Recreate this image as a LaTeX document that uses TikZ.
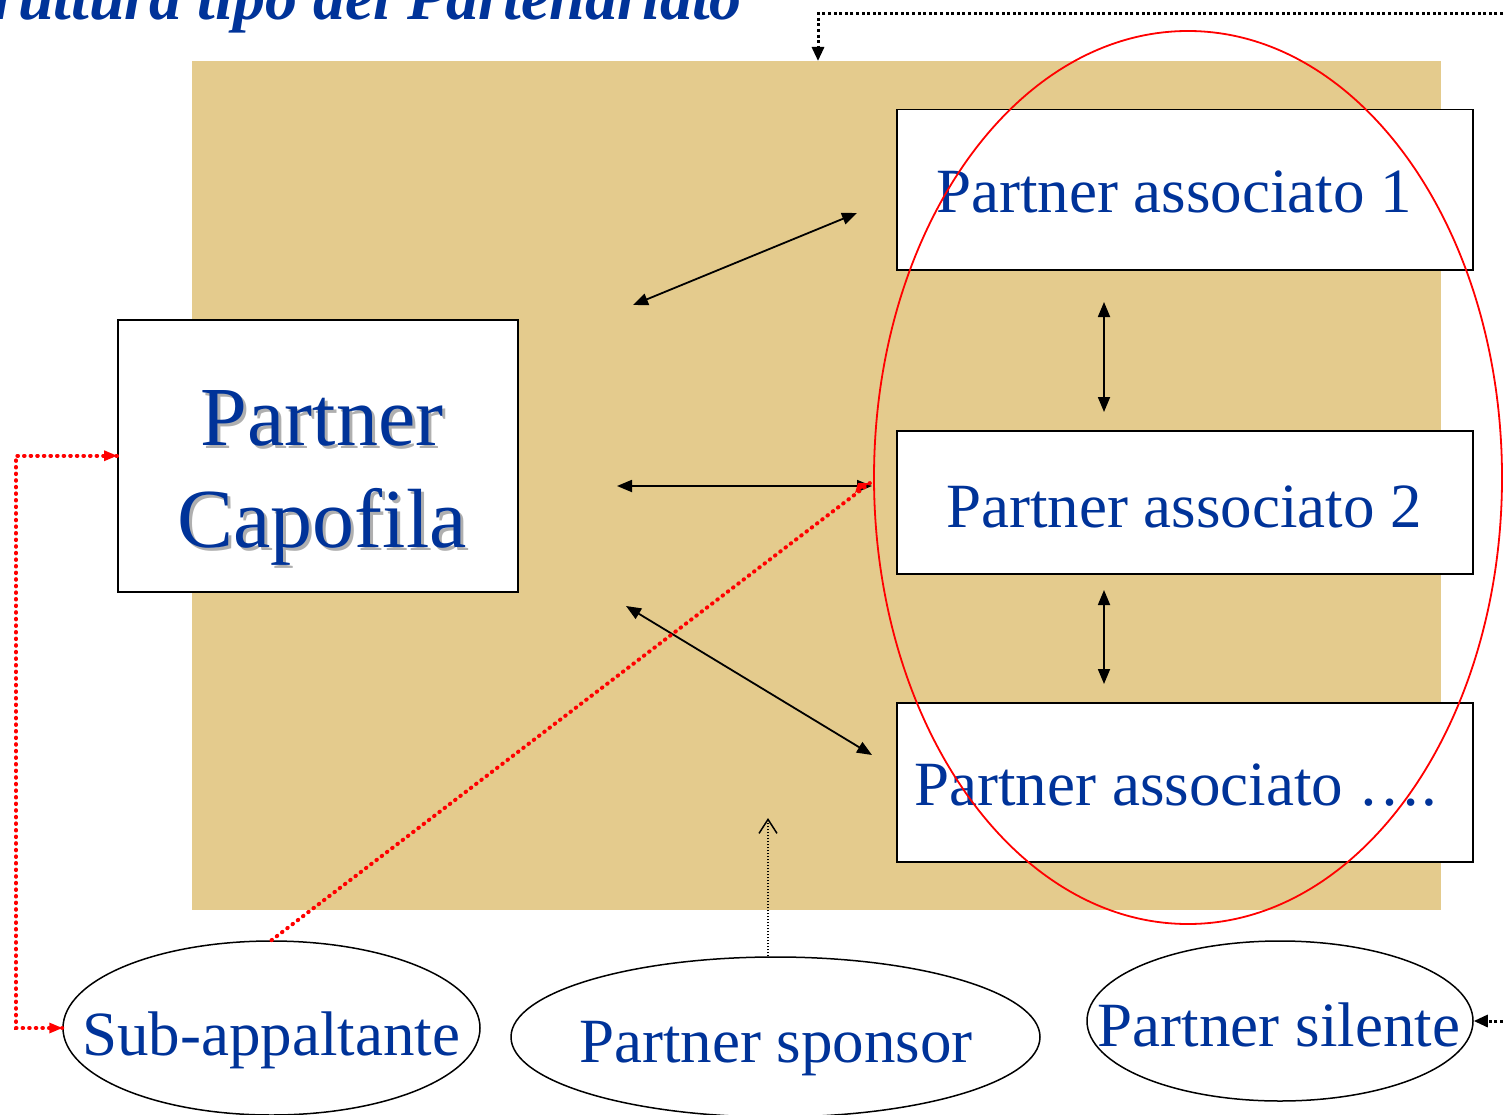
\documentclass[tikz,border=0pt]{standalone}
\usepackage{fontspec}
\setmainfont{Liberation Serif}
\usetikzlibrary{arrows.meta,shapes.geometric}
\definecolor{tblue}{RGB}{0,51,153}
\definecolor{bgtan}{RGB}{228,203,141}
\definecolor{shadowgray}{RGB}{175,175,175}
\begin{document}
\begin{tikzpicture}[x=1pt,y=-1pt,
  rect/.style={draw=black,line width=1.5pt,fill=white,inner sep=0pt,anchor=north west},
  oval/.style={ellipse,draw=black,line width=1.5pt,inner sep=0pt,fill=white},
  lbl/.style={text=tblue,font=\fontsize{63}{70}\selectfont,anchor=base,inner sep=0pt},
  dbl/.style={line width=1.8pt,{Triangle[length=15pt,width=12pt]}-{Triangle[length=15pt,width=12pt]}},
  reddots/.style={red,line width=4pt,dash pattern=on 0.6pt off 6pt,line cap=round},
  blackdots/.style={black,line width=3pt,dash pattern=on 3pt off 2.6pt},
]
\useasboundingbox (0,0) rectangle (1503,1115);
% background
\node[fill=bgtan,anchor=north west,minimum width=1249pt,minimum height=849pt,inner sep=0pt] (bg) at (192,61) {};
% title
\node[anchor=base east,inner sep=0pt,text=tblue,font=\fontsize{64}{70}\selectfont\bfseries\itshape] (title) at (742,20) {Struttura tipo del Partenariato};
% top dotted arrow
\coordinate (topin) at (1503,14);
\coordinate (bgtop) at (818,61);
\draw[blackdots,-{Triangle[length=14pt,width=12pt]}] (topin) -| (bgtop);
% boxes
\node[rect,minimum width=400pt,minimum height=272pt] (cap) at (117,319) {};
\node[rect,minimum width=576pt,minimum height=160pt] (pa1) at (896,109) {};
\node[rect,minimum width=576pt,minimum height=143pt] (pa2) at (896,430) {};
\node[rect,minimum width=576pt,minimum height=159pt] (pa3) at (896,702) {};
% capofila text with shadow
\node[text=shadowgray,font=\fontsize{84}{102}\selectfont,anchor=base,inner sep=0pt,align=center] (capsh) at (325,550) {Partner\\Capofila};
\node[text=tblue,font=\fontsize{84}{102}\selectfont,anchor=base,inner sep=0pt,align=center] (captxt) at (322,547) {Partner\\Capofila};
% associato texts
\node[lbl] (t1) at (1174,213) {Partner associato 1};
\node[lbl] (t2) at (1184,527) {Partner associato 2};
\node[lbl] (t3) at (1176,805) {Partner associato ….};
% double arrows
\coordinate (a1s) at (633,305); \coordinate (a1e) at (857,213);
\coordinate (a2s) at (617,486); \coordinate (a2e) at (872,486);
\coordinate (a3s) at (626,606); \coordinate (a3e) at (872,755);
\draw[dbl] (a1s) -- (a1e);
\draw[dbl] (a2s) -- (a2e);
\draw[dbl] (a3s) -- (a3e);
\coordinate (v1s) at (1104,302); \coordinate (v1e) at (1104,412);
\coordinate (v2s) at (1104,590); \coordinate (v2e) at (1104,684);
\draw[dbl] (v1s) -- (v1e);
\draw[dbl] (v2s) -- (v2e);
% bottom ellipses
\node[oval,minimum width=417pt,minimum height=174pt] (sub) at (271.5,1028) {};
\node[oval,minimum width=529pt,minimum height=160pt] (spo) at (775.5,1037) {};
\node[oval,minimum width=386pt,minimum height=160pt] (sil) at (1280,1021) {};
\node[lbl] (subt) at (271,1055) {Sub-appaltante};
\node[lbl] (spot) at (776,1062) {Partner sponsor};
\node[lbl] (silt) at (1279,1046) {Partner silente};
% sponsor arrow
\coordinate (sptip) at (768,818);
\draw[black,line width=1.2pt,dash pattern=on 1.5pt off 1.5pt,-{Straight Barb[length=14pt,width=18pt,line width=1.5pt]}] (spo.north -| sptip) -- (sptip);
% silente arrow
\coordinate (silin) at (1503,1021);
\draw[blackdots,-{Triangle[length=14pt,width=12pt]}] (silin) -- (sil.east);
% red connectors
\coordinate (rdend) at (870,483);
\draw[reddots] (sub.north) -- (rdend);
\fill[red] (rdend) -- ++(-15,10) -- ++(3,-10) -- cycle;
\draw[reddots] (cap.west) -- ++(-101,0) |- (sub.west);
\draw[red,line width=0pt,-{Triangle[length=13pt,width=11pt]}] ([xshift=-14pt]cap.west) -- (cap.west);
\draw[red,line width=0pt,-{Triangle[length=13pt,width=11pt]}] ([xshift=-14pt]sub.west) -- (sub.west);
% red group ellipse
\node[ellipse,draw=red,line width=1.8pt,inner sep=0pt,minimum width=628pt,minimum height=893pt] (grp) at (1188,477.5) {};
\end{tikzpicture}
\end{document}
